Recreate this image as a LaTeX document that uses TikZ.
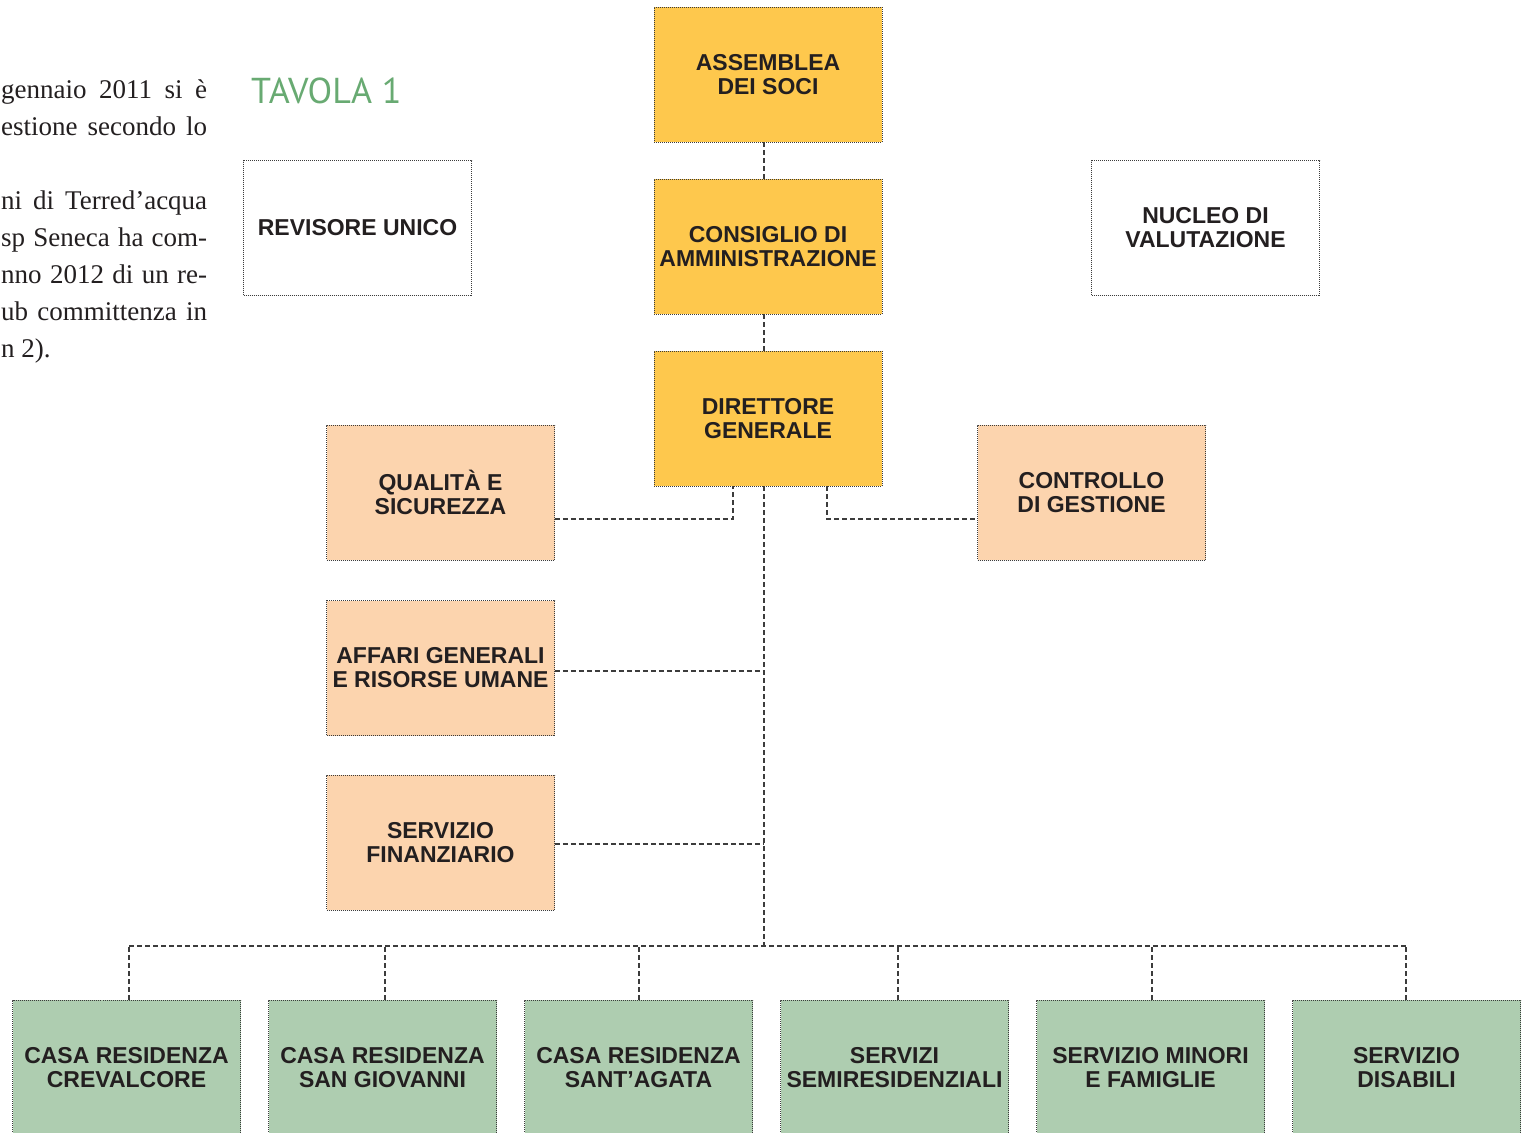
\documentclass[tikz,border=0pt]{standalone}
\usepackage{fontspec}
\setmainfont{Liberation Serif}
\setsansfont{Liberation Sans}
\newfontfamily\tavfont{PT Sans}
\definecolor{cYellow}{RGB}{254,200,77}
\definecolor{cPeach}{RGB}{252,212,174}
\definecolor{cGreen}{RGB}{174,205,176}
\definecolor{cTav}{RGB}{104,170,114}
\definecolor{cText}{RGB}{35,31,32}
\definecolor{cLine}{RGB}{60,60,60}
\tikzset{
  box/.style={rectangle, minimum width=228pt, minimum height=135pt, inner sep=0pt,
    draw=cLine, line width=0.9pt, dash pattern=on 1pt off 1pt, align=center,
    text=cText, font=\sffamily\bfseries\fontsize{23}{24}\selectfont},
  ybox/.style={box, fill=cYellow},
  pbox/.style={box, fill=cPeach},
  gbox/.style={box, fill=cGreen},
  wbox/.style={box, fill=white},
  conn/.style={draw=cLine, line width=1.4pt, dash pattern=on 5pt off 3pt},
  para/.style={anchor=base west, inner sep=0pt, text=cText, font=\rmfamily\fontsize{27}{37}\selectfont},
}
\newcommand{\jline}[1]{\makebox[206pt][s]{#1}}
\begin{document}
\begin{tikzpicture}[x=1pt,y=-1pt]
\useasboundingbox (0,0) rectangle (1530,1132);
\clip (0,0) rectangle (1530,1132);
\fill[white] (0,0) rectangle (1530,1132);
% left paragraph (only its visible part)
\node[para] (p1) at (1,98) {\jline{gennaio 2011 si è}};
\node[para] (p2) at (1,135) {\jline{estione secondo lo}};
\node[para] (p3) at (1,209) {\jline{ni di Terred’acqua}};
\node[para] (p4) at (1,246) {\jline{sp Seneca ha com-}};
\node[para] (p5) at (1,283) {\jline{nno 2012 di un re-}};
\node[para] (p6) at (1,320) {\jline{ub committenza in}};
\node[para] (p7) at (1,357) {n 2).};
% title
\node[anchor=base west, inner sep=0pt, text=cTav, font=\tavfont\fontsize{36}{40}\selectfont] (tav) at (251,103) {TAVOLA 1};
% boxes
\node[ybox] (ass) at (768,74.5) {ASSEMBLEA\\DEI SOCI};
\node[ybox] (cda) at (768,246.5) {CONSIGLIO DI\\AMMINISTRAZIONE};
\node[ybox] (dg) at (768,418.5) {DIRETTORE\\GENERALE};
\node[wbox] (rev) at (357.5,228) {REVISORE UNICO};
\node[wbox] (nuc) at (1205.5,228) {NUCLEO DI\\VALUTAZIONE};
\node[pbox] (qual) at (440.5,492.5) {QUALITÀ E\\SICUREZZA};
\node[pbox] (ctrl) at (1091.5,492.5) {CONTROLLO\\DI GESTIONE};
\node[pbox] (aff) at (440.5,668) {AFFARI GENERALI\\E RISORSE UMANE};
\node[pbox] (fin) at (440.5,842.5) {SERVIZIO\\FINANZIARIO};
\node[gbox] (b1) at (126.5,1067.5) {CASA RESIDENZA\\CREVALCORE};
\node[gbox] (b2) at (382.5,1067.5) {CASA RESIDENZA\\SAN GIOVANNI};
\node[gbox] (b3) at (638.5,1067.5) {CASA RESIDENZA\\SANT’AGATA};
\node[gbox] (b4) at (894.5,1067.5) {SERVIZI\\SEMIRESIDENZIALI};
\node[gbox] (b5) at (1150.5,1067.5) {SERVIZIO MINORI\\E FAMIGLIE};
\node[gbox] (b6) at (1406.5,1067.5) {SERVIZIO\\DISABILI};
\coordinate (trunk) at (764,946);
% connectors
\draw[conn] ([xshift=-4pt]ass.south) -- ([xshift=-4pt]cda.north);
\draw[conn] ([xshift=-4pt]cda.south) -- ([xshift=-4pt]dg.north);
\draw[conn] ([xshift=-4pt]dg.south) -- (trunk);
\draw[conn] ([yshift=-26.5pt]qual.east) -| ([xshift=-35pt]dg.south);
\draw[conn] ([xshift=59pt]dg.south) |- ([yshift=-26.5pt]ctrl.west);
\draw[conn] ([yshift=-3pt]aff.east) -- ([yshift=-3pt]aff.east -| trunk);
\draw[conn] ([yshift=-1.5pt]fin.east) -- ([yshift=-1.5pt]fin.east -| trunk);
\draw[conn] ([xshift=2.5pt]b1.north |- trunk) -- ([xshift=-0.5pt]b6.north |- trunk);
\draw[conn] ([xshift=2.5pt]b1.north) -- ([xshift=2.5pt]b1.north |- trunk);
\draw[conn] ([xshift=2.5pt]b2.north) -- ([xshift=2.5pt]b2.north |- trunk);
\draw[conn] ([xshift=0.5pt]b3.north) -- ([xshift=0.5pt]b3.north |- trunk);
\draw[conn] ([xshift=3.5pt]b4.north) -- ([xshift=3.5pt]b4.north |- trunk);
\draw[conn] ([xshift=1.5pt]b5.north) -- ([xshift=1.5pt]b5.north |- trunk);
\draw[conn] ([xshift=-0.5pt]b6.north) -- ([xshift=-0.5pt]b6.north |- trunk);
\end{tikzpicture}
\end{document}
